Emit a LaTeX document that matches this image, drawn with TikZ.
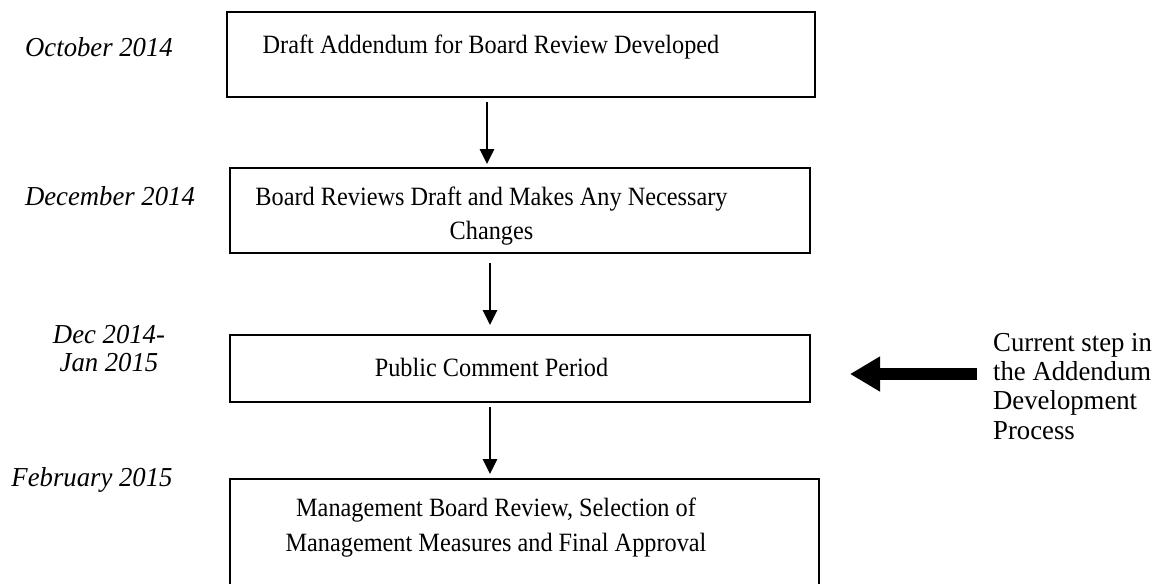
\documentclass[tikz,border=0pt]{standalone}
\usepackage{fontspec}
\setmainfont{Liberation Serif}
\newfontfamily\boxfont[FakeStretch=0.92]{Liberation Serif}
\newfontfamily\sidefont[FakeStretch=0.975]{Liberation Serif}
\usetikzlibrary{arrows.meta}
\begin{document}
\begin{tikzpicture}[x=1pt,y=-1pt,
  stepbox/.style={draw=black, line width=1.8pt, inner sep=0pt, outer sep=0pt},
  boxtext/.style={font=\boxfont\fontsize{26.4}{35}\selectfont, align=center, inner sep=0pt, anchor=base},
  datetext/.style={font=\sidefont\fontsize{27.4}{27.5}\selectfont\itshape, align=center, inner sep=0pt, anchor=base},
  sidetext/.style={font=\sidefont\fontsize{27.4}{29.3}\selectfont, align=left, inner sep=0pt, anchor=base west},
  conn/.style={line width=2.8pt, -{Triangle[width=14pt,length=15pt]}},
  bigarrow/.style={line width=12pt, -{Triangle[width=33pt,length=30pt]}}]
\useasboundingbox (0,0) rectangle (1163,584);
\clip (0,0) rectangle (1163,584);
% boxes
\node[stepbox, minimum width=588pt, minimum height=85pt] (b1) at (521,54.5) {};
\node[stepbox, minimum width=580pt, minimum height=85pt] (b2) at (520,210.5) {};
\node[stepbox, minimum width=580pt, minimum height=67pt] (b3) at (520,368.5) {};
\node[stepbox, minimum width=589pt, minimum height=141pt] (b4) at (524.5,549.5) {};
% box texts (base anchor = baseline of last line)
\node[boxtext] (t1) at (491,53) {Draft Addendum for Board Review Developed};
\node[boxtext, font=\boxfont\fontsize{26.4}{34}\selectfont] (t2) at (491.5,239) {Board Reviews Draft and Makes Any Necessary\\Changes};
\node[boxtext] (t3) at (491.5,376) {Public Comment Period};
\node[boxtext, font=\boxfont\fontsize{26.4}{35}\selectfont] (t4) at (496,551) {Management Board Review, Selection of\\Management Measures and Final Approval};
% dates
\node[datetext] (d1) at (99,56) {October 2014};
\node[datetext] (d2) at (110,205) {December 2014};
\node[datetext] (d3) at (109,371) {Dec 2014-\\Jan 2015};
\node[datetext] (d4) at (92,486) {February 2015};
% side note
\node[sidetext] (note) at (993,439) {Current step in\\the Addendum\\Development\\Process};
% connectors
\coordinate (ax1) at (487,0);
\coordinate (ax2) at (490,0);
\draw[conn] ([yshift=-5pt]b1.south -| ax1) -- ([yshift=4pt]b2.north -| ax1);
\draw[conn] ([yshift=-10pt]b2.south -| ax2) -- ([yshift=10pt]b3.north -| ax2);
\draw[conn] ([yshift=-5pt]b3.south -| ax2) -- ([yshift=5pt]b4.north -| ax2);
\coordinate (bs) at (977,374);
\coordinate (be) at (850,374);
\draw[bigarrow] (bs) -- (be);
\end{tikzpicture}
\end{document}
